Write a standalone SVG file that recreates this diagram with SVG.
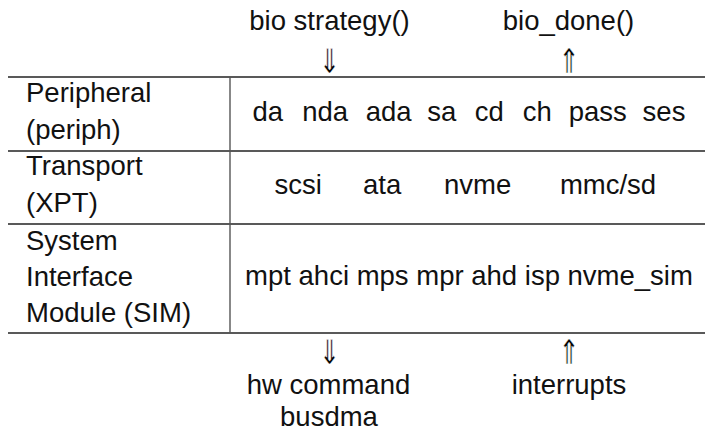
<svg xmlns="http://www.w3.org/2000/svg" width="705" height="433" viewBox="0 0 705 433">
  <style>
    .t { font-family: "Liberation Sans", Arial, sans-serif; font-size: 27.5px; fill: #111; }
    .c { text-anchor: middle; }
    .arr { font-family: "DejaVu Sans", sans-serif; font-size: 34px; fill: #000; text-anchor: middle; stroke: #fff; stroke-width: 0.55px; opacity: 0.99; }
    .rule { stroke: #222; stroke-width: 1.4; fill: none; }
    .vrule { stroke: #555; stroke-width: 1.4; fill: none; }
  </style>
  <rect width="705" height="433" fill="#fff"/>

  <!-- calls entering and leaving the CAM stack -->
  <g id="top-calls">
    <text class="t c" x="329.5" y="30">bio strategy()</text>
    <text class="t c" x="568.5" y="30">bio_done()</text>
  </g>

  <!-- table rules and the flow arrows -->
  <g id="connectors">
    <line class="rule" x1="8" y1="77" x2="705" y2="77"/>
    <line class="rule" x1="8" y1="151" x2="705" y2="151"/>
    <line class="rule" x1="8" y1="224" x2="705" y2="224"/>
    <line class="rule" x1="8" y1="333" x2="705" y2="333"/>
    <line class="vrule" x1="230" y1="77" x2="230" y2="333"/>
    <text class="arr" transform="translate(329.5 73) scale(0.75 1)">⇓</text>
    <text class="arr" transform="translate(569 73) scale(0.75 1)">⇑</text>
    <text class="arr" transform="translate(329.5 364) scale(0.75 1)">⇓</text>
    <text class="arr" transform="translate(569 364) scale(0.75 1)">⇑</text>
  </g>

  <g id="periph">
    <text class="t" x="26" y="102">Peripheral</text>
    <text class="t" x="26" y="138.5">(periph)</text>
    <text class="t c" y="121"><tspan x="271.5">da</tspan> <tspan x="329">nda</tspan> <tspan x="392.5">ada</tspan> <tspan x="445.5">sa</tspan> <tspan x="493">cd</tspan> <tspan x="541">ch</tspan> <tspan x="601.5">pass</tspan> <tspan x="664">ses</tspan></text>
  </g>

  <g id="xpt">
    <text class="t" x="26" y="175">Transport</text>
    <text class="t" x="26" y="212">(XPT)</text>
    <text class="t c" y="193.5"><tspan x="302">scsi</tspan> <tspan x="386">ata</tspan> <tspan x="481.5">nvme</tspan> <tspan x="608">mmc/sd</tspan></text>
  </g>

  <g id="sim">
    <text class="t" x="26" y="249.5">System</text>
    <text class="t" x="26" y="285.5">Interface</text>
    <text class="t" x="26" y="322">Module (SIM)</text>
    <text class="t c" x="469" y="285">mpt ahci mps mpr ahd isp nvme_sim</text>
  </g>

  <!-- hardware side -->
  <g id="hw">
    <text class="t c" x="328.5" y="394">hw command</text>
    <text class="t c" x="329" y="426">busdma</text>
    <text class="t c" x="569" y="394">interrupts</text>
  </g>
</svg>
